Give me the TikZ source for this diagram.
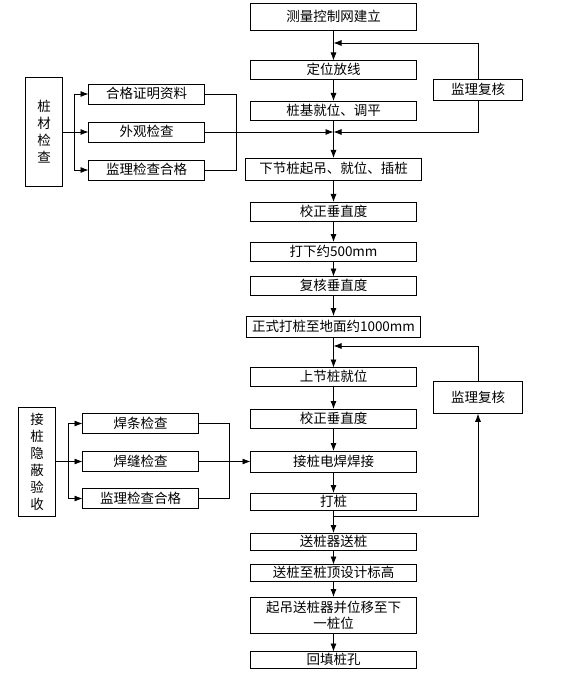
\documentclass[tikz,border=0pt]{standalone}
\usepackage{fontspec}
\setmainfont{Noto Sans CJK SC}
\usetikzlibrary{positioning,calc,arrows.meta}

\tikzset{
  box/.style={draw, line width=0.8pt, inner sep=1pt, outer sep=0pt, text height=11.5pt, text depth=2pt, font=\fontsize{13.5}{16}\selectfont},
  proc/.style={box, minimum width=166pt, minimum height=19pt},
  chk/.style={box, minimum width=116pt, minimum height=20pt},
  side/.style={box, text height=, text depth=, minimum width=37pt, minimum height=109pt, align=center, font=\fontsize{13.5}{17}\selectfont},
  review/.style={box, minimum width=89pt, minimum height=21pt},
  flow/.style={line width=0.8pt, -{Latex[length=8pt,width=6pt]}},
  link/.style={line width=0.8pt}
}

\begin{document}
\begin{tikzpicture}
\useasboundingbox (0,0) rectangle (560pt,-676pt);
% main column
\node[proc, minimum height=27pt] (m1) at (333.5pt,-16.5pt) {测量控制网建立};
\node[proc, below=30.5pt of m1] (m2) {定位放线};
\node[proc, below=21.5pt of m2] (m3) {桩基就位、调平};
\node[proc, minimum width=176pt, minimum height=22pt, below=38pt of m3] (m4) {下节桩起吊、就位、插桩};
\node[proc, below=22pt of m4] (m5) {校正垂直度};
\node[proc, below=21pt of m5] (m6) {打下约500mm};
\node[proc, below=15.5pt of m6] (m7) {复核垂直度};
\node[proc, minimum width=174pt, minimum height=21pt, below=20.5pt of m7] (m8) {正式打桩至地面约1000mm};
\node[proc, below=30.5pt of m8] (m9) {上节桩就位};
\node[proc, below=22.5pt of m9] (m10) {校正垂直度};
\node[proc, minimum height=21pt, below=23pt of m10] (m11) {接桩电焊焊接};
\node[proc, minimum height=17pt, below=21pt of m11] (m12) {打桩};
\node[proc, minimum height=17pt, below=23pt of m12] (m13) {送桩器送桩};
\node[proc, minimum height=17pt, below=14.5pt of m13] (m14) {送桩至桩顶设计标高};
\node[proc, text height=, text depth=, minimum height=36pt, align=center, below=15.5pt of m14] (m15) {起吊送桩器并位移至下\\一桩位};
\node[proc, minimum height=17pt, below=18.5pt of m15] (m16) {回填桩孔};
\draw[flow] (m1) -- (m2);
\draw[flow] (m2) -- (m3);
\draw[flow] (m3) -- (m4);
\draw[flow] (m4) -- (m5);
\draw[flow] (m5) -- (m6);
\draw[flow] (m6) -- (m7);
\draw[flow] (m7) -- (m8);
\draw[flow] (m8) -- (m9);
\draw[flow] (m9) -- (m10);
\draw[flow] (m10) -- (m11);
\draw[flow] (m11) -- (m12);
\draw[flow] (m12) -- (m13);
\draw[flow] (m13) -- (m14);
\draw[flow] (m14) -- (m15);
\draw[flow] (m15) -- (m16);

% pile material check
\coordinate[below=13pt of m1] (c1);
\coordinate[below=12pt of m3] (c2);
\node[chk, left=129pt of c2] (wg) {外观检查};
\node[chk, above=18pt of wg] (hz) {合格证明资料};
\node[chk, below=18pt of wg] (jc) {监理检查合格};
\node[side, left=26pt of wg] (zc) {桩\\材\\检\\查};
\coordinate[right=12pt of zc] (b1);
\coordinate[right=32pt of wg] (j1);
\draw[link] (zc) -- (b1);
\draw[flow] (b1) |- (hz);
\draw[flow] (b1) -- (wg);
\draw[flow] (b1) |- (jc);
\draw[link] (hz) -| (j1) |- (jc);
\draw[flow] (wg) -- (c2);

% upper review loop
\coordinate (q1) at ($(m2.east)!0.5!(m3.east)$);
\node[review, right=17pt of q1] (jl1) {监理复核};
\draw[flow] (jl1) |- (c1);
\draw[flow] (jl1) |- (c2);

% lower review loop
\coordinate[below=9pt of m8] (c3);
\coordinate[below=6pt of m12] (c4);
\coordinate (q2) at ($(m9.east)!0.5!(m10.east)$);
\node[review, minimum height=32pt, right=17pt of q2] (jl2) {监理复核};
\draw[flow] (jl2) |- (c3);
\draw[flow] (c4) -| (jl2);

% splice check
\node[chk, left=52pt of m11] (hf) {焊缝检查};
\node[chk, above=18pt of hf] (hg) {焊条检查};
\node[chk, below=17pt of hf] (hj) {监理检查合格};
\node[side, left=27pt of hf] (jz) {接\\桩\\隐\\蔽\\验\\收};
\coordinate[right=13pt of jz] (b2);
\coordinate[right=31pt of hf] (j2);
\draw[link] (jz) -- (b2);
\draw[flow] (b2) |- (hg);
\draw[flow] (b2) -- (hf);
\draw[flow] (b2) |- (hj);
\draw[link] (hg) -| (j2) |- (hj);
\draw[flow] (hf) -- (m11);
\end{tikzpicture}
\end{document}
